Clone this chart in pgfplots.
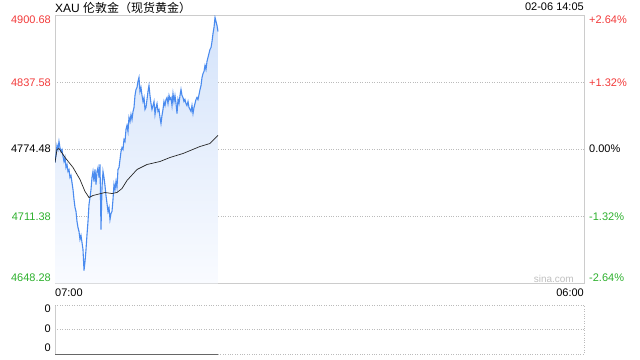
\documentclass[border=0pt]{standalone}
\usepackage{fontspec}
\setmainfont{Liberation Sans}
\newfontfamily\cjk{Noto Sans CJK SC}
\usepackage{pgfplots}
\pgfplotsset{compat=1.18}
\usepackage{pgfplotstable}
\definecolor{sred}{HTML}{F23A3A}
\definecolor{sgreen}{HTML}{2DB02D}
\definecolor{sblue}{HTML}{4A8BEF}
\definecolor{sfill}{HTML}{D4E3FA}
\definecolor{sfill2}{HTML}{F9FBFF}
\definecolor{sframe}{HTML}{CCCCCC}
\definecolor{sgrid}{HTML}{BBBBBB}

\pgfplotstableread{
t p
0 4762.24
2.6 4769.77
5.2 4778.25
7.8 4774.48
10.4 4782.01
13.0 4776.36
15.7 4772.60
18.3 4774.48
20.9 4767.89
23.5 4763.18
26.1 4766.95
28.7 4757.53
31.3 4760.35
33.9 4753.76
36.5 4755.64
39.1 4748.11
41.7 4749.99
44.3 4743.40
47.0 4736.81
49.6 4727.39
52.2 4719.86
54.8 4716.09
57.4 4706.67
60.0 4701.02
62.6 4697.25
65.2 4689.72
67.8 4693.49
70.4 4686.89
73.0 4680.30
75.7 4660.52
78.3 4669.00
80.9 4680.30
83.5 4694.43
86.1 4706.67
88.7 4722.68
91.3 4729.27
93.9 4736.81
96.5 4748.11
99.1 4753.76
101.7 4744.34
104.3 4755.64
107.0 4741.52
109.6 4753.76
112.2 4757.53
114.8 4748.11
117.4 4760.35
120.0 4699.14
122.6 4738.69
125.2 4753.76
127.8 4748.11
130.4 4740.58
133.0 4731.16
135.7 4723.62
138.3 4716.09
140.9 4719.86
143.5 4708.55
146.1 4714.21
148.7 4716.09
151.3 4727.39
153.9 4741.52
156.5 4736.81
159.1 4744.34
161.7 4738.69
164.3 4755.64
167.0 4757.53
169.6 4765.06
172.2 4772.60
174.8 4776.36
177.4 4774.48
180.0 4783.90
182.6 4782.01
185.2 4793.32
187.8 4797.08
190.4 4791.43
193.0 4804.62
195.7 4800.85
198.3 4807.44
200.9 4802.73
203.5 4810.27
206.1 4814.04
208.7 4825.34
211.3 4830.99
213.9 4832.87
216.5 4838.52
219.1 4842.29
221.7 4829.10
224.3 4832.87
227.0 4825.34
229.6 4819.69
232.2 4823.45
234.8 4812.15
237.4 4814.04
240.0 4821.57
242.6 4829.10
245.2 4834.75
247.8 4825.34
250.4 4817.80
253.0 4812.15
255.7 4815.92
258.3 4819.69
260.9 4807.44
263.5 4814.04
266.1 4817.80
268.7 4810.27
271.3 4812.15
273.9 4804.62
276.5 4798.97
279.1 4806.50
281.7 4812.15
284.3 4819.69
287.0 4815.92
289.6 4821.57
292.2 4823.45
294.8 4817.80
297.4 4825.34
300.0 4821.57
302.6 4823.45
305.2 4815.92
307.8 4827.22
310.4 4819.69
313.0 4825.34
315.7 4817.80
318.3 4808.38
320.9 4821.57
323.5 4817.80
326.1 4825.34
328.7 4830.99
331.3 4825.34
333.9 4823.45
336.5 4819.69
339.1 4821.57
341.7 4817.80
344.3 4815.92
347.0 4819.69
349.6 4814.04
352.2 4812.15
354.8 4810.27
357.4 4815.92
360.0 4808.38
362.6 4814.04
365.2 4817.80
367.8 4821.57
370.4 4823.45
373.0 4821.57
375.7 4826.28
378.3 4830.99
380.9 4834.75
383.5 4842.29
386.1 4846.06
388.7 4847.94
391.3 4853.59
393.9 4849.82
396.5 4857.36
399.1 4861.12
401.7 4864.89
404.3 4868.66
407.0 4870.54
409.6 4876.19
412.2 4883.73
414.8 4889.38
417.4 4898.80
420.0 4895.03
422.6 4891.26
425.2 4885.61
}\price

\pgfplotstableread{
t p
0 4762.24
5.2 4774.48
10.4 4775.42
26.1 4766.95
47.0 4757.53
65.2 4746.23
78.3 4734.92
88.7 4729.27
99.1 4731.16
109.6 4732.10
130.4 4733.98
148.7 4733.04
161.7 4733.98
174.8 4737.75
187.8 4745.28
213.9 4755.64
240.0 4760.35
273.9 4763.18
300.0 4766.95
333.9 4770.71
378.3 4777.31
404.3 4780.13
425.2 4787.67
}\avg

\begin{document}
\begin{tikzpicture}[font=\fontsize{11bp}{13bp}\selectfont]
\path[use as bounding box] (0,0) rectangle (640bp,360bp);

\begin{axis}[
  at={(55bp,76.5bp)}, anchor=south west, scale only axis,
  width=529bp, height=268bp,
  xmin=0, xmax=1380, ymin=4648.28, ymax=4900.68,
  xtick=\empty, ytick={4711.38,4774.48,4837.58}, yticklabels={},
  major tick length=0pt,
  ymajorgrids, grid style={dash pattern=on 0.8bp off 1.6bp, line width=0.5bp, sgrid},
  axis line style={sframe, line width=0.8bp},
]
\addplot[draw=none, top color=sfill, bottom color=sfill2] table[x=t,y=p] {\price} \closedcycle;
\addplot[sblue, line width=1.1bp] table[x=t,y=p] {\price};
\addplot[black!85, line width=0.7bp] table[x=t,y=p] {\avg};
\end{axis}

\begin{axis}[
  at={(55bp,6bp)}, anchor=south west, scale only axis,
  width=529bp, height=49bp,
  xmin=0, xmax=1380, ymin=0, ymax=2,
  xtick=\empty, ytick={1}, yticklabels={},
  major tick length=0pt,
  ymajorgrids, grid style={dash pattern=on 0.8bp off 1.6bp, line width=0.5bp, sgrid},
  axis line style={draw=none}, clip=false,
]
\draw[sframe, line width=0.8bp] (rel axis cs:0,0) -- (rel axis cs:0,1);
\draw[sgrid, dash pattern=on 0.8bp off 1.6bp, line width=0.5bp] (rel axis cs:0,1) -- (rel axis cs:1,1) -- (rel axis cs:1,0) -- (rel axis cs:0,0);
\addplot[black!60, line width=1bp] coordinates {(0,0) (425.2,0)};
\end{axis}

% left price labels
\node[anchor=east, inner sep=0pt, text=sred] at (51bp,340bp) {4900.68};
\node[anchor=east, inner sep=0pt, text=sred] at (51bp,277bp) {4837.58};
\node[anchor=east, inner sep=0pt, text=black] at (51bp,211bp) {4774.48};
\node[anchor=east, inner sep=0pt, text=sgreen] at (51bp,143bp) {4711.38};
\node[anchor=east, inner sep=0pt, text=sgreen] at (51bp,82bp) {4648.28};
% right percent labels
\node[anchor=west, inner sep=0pt, text=sred] at (589bp,340bp) {+2.64\%};
\node[anchor=west, inner sep=0pt, text=sred] at (589bp,277bp) {+1.32\%};
\node[anchor=west, inner sep=0pt, text=black] at (589bp,211bp) {0.00\%};
\node[anchor=west, inner sep=0pt, text=sgreen] at (589bp,143bp) {-1.32\%};
\node[anchor=west, inner sep=0pt, text=sgreen] at (589bp,82bp) {-2.64\%};
% header
\node[anchor=west, inner sep=0pt, font=\fontsize{12bp}{14bp}\selectfont] at (55bp,352bp) {XAU {\cjk 伦敦金（现货黄金）}};
\node[anchor=east, inner sep=0pt] at (584bp,353bp) {02-06 14:05};
% time labels
\node[anchor=west, inner sep=0pt] at (55bp,67bp) {07:00};
\node[anchor=east, inner sep=0pt] at (584bp,67bp) {06:00};
% watermark
\node[anchor=east, inner sep=0pt, text=black!25, font=\fontsize{10bp}{12bp}\selectfont] at (574bp,81bp) {sina.com};
% volume labels
\node[anchor=east, inner sep=0pt] at (51bp,51bp) {0};
\node[anchor=east, inner sep=0pt] at (51bp,31bp) {0};
\node[anchor=east, inner sep=0pt] at (51bp,12bp) {0};
\end{tikzpicture}
\end{document}
